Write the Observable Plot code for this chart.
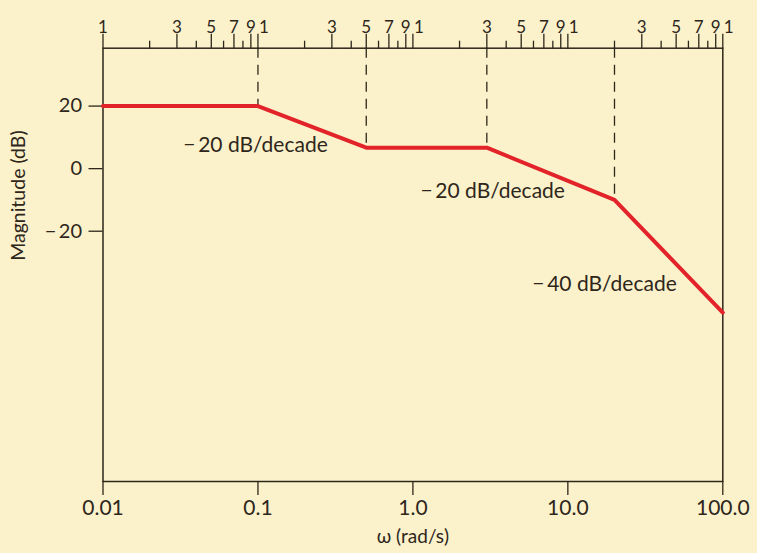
<!DOCTYPE html>
<html>
<head>
<meta charset="utf-8">
<script src="https://cdn.jsdelivr.net/npm/d3@7"></script>
<script src="https://cdn.jsdelivr.net/npm/@observablehq/plot@0.6"></script>
<style>
  html, body { margin: 0; padding: 0; background: #fbf2cb; }
  #chart svg { display: block; }
</style>
</head>
<body>
<div id="chart"></div>
<script>
// Asymptotic Bode magnitude plot
const omega = [0.01, 0.1, 0.5, 3, 20, 100];
const magnitude = [20, 20, 6.7, 6.7, -10, -46];
const breakOmega = [0.1, 0.5, 3, 20];

const xDomain = [0.01, 100];
const yDomain = [-100, 38.5];

const bottomTicks = [0.01, 0.1, 1, 10, 100];
const bottomLabels = ["0.01", "0.1", "1.0", "10.0", "100.0"];

const topMajorTicks = [0.01, 0.03, 0.05, 0.07, 0.09, 0.1, 0.3, 0.5, 0.7, 0.9, 1, 3, 5, 7, 9, 10, 30, 50, 70, 90, 100];
const topMajorLabels = ["1", "3", "5", "7", "9", "1", "3", "5", "7", "9", "1", "3", "5", "7", "9", "1", "3", "5", "7", "9", "1"];
const topMinorTicks = [0.02, 0.04, 0.06, 0.08, 0.2, 0.4, 0.6, 0.8, 2, 4, 6, 8, 20, 40, 60, 80];

const yTicks = [20, 0, -20];
const yLabels = ["20", "0", "\u2212\u200920"];

const slopeText = ["\u2212\u200920 dB/decade", "\u2212\u200920 dB/decade", "\u2212\u200940 dB/decade"];
const slopeOmega = [0.033, 1.12, 5.9];
const slopeMag = [7.4, -7.3, -37];

const curve = omega.map((w, i) => ({w, db: magnitude[i]}));
const breaks = breakOmega.map(w => ({w, db: magnitude[omega.indexOf(w)], top: yDomain[1]}));
const slopes = slopeText.map((t, i) => ({t, w: slopeOmega[i], db: slopeMag[i]}));
const topLabels = topMajorTicks.map((w, i) => ({w, t: topMajorLabels[i]}));
// decade "1" labels (after the first) sit just right of their tick, as in the original
const topCentered = topLabels.filter((d, i) => i === 0 || d.t !== "1");
const topDecade = topLabels.filter((d, i) => i > 0 && d.t === "1");

const fmt = (vals, labs) => { const m = new Map(vals.map((v, i) => [v, labs[i]])); return d => m.get(d) ?? ""; };

const ink = "#2e261b";

const chart = Plot.plot({
  width: 757,
  height: 553,
  marginLeft: 102.5,
  marginRight: 34.7,
  marginTop: 47.7,
  marginBottom: 72,
  style: {background: "#fbf2cb", color: ink, fontFamily: "Lato, 'Open Sans', sans-serif", fontSize: "20px"},
  x: {type: "log", domain: xDomain},
  y: {domain: yDomain},
  marks: [
    Plot.axisX(topMinorTicks, {anchor: "top", tickSize: 8, tickFormat: () => "", label: null, stroke: ink, strokeWidth: 1.3}),
    Plot.axisX(topMajorTicks, {anchor: "top", tickSize: 15, tickFormat: () => "", label: null, stroke: ink, strokeWidth: 1.3}),
    Plot.text(topCentered, {x: "w", text: "t", frameAnchor: "top", dy: -27, fontSize: 17, fill: ink}),
    Plot.text(topDecade, {x: "w", text: "t", frameAnchor: "top", dy: -27, dx: 1, textAnchor: "start", fontSize: 17, fill: ink}),
    Plot.axisX(bottomTicks, {anchor: "bottom", tickSize: 14, tickPadding: 5, tickFormat: fmt(bottomTicks, bottomLabels), label: null, fontSize: 21, stroke: ink, strokeWidth: 1.3}),
    Plot.axisY(yTicks, {anchor: "left", tickSize: 14, tickPadding: 7, tickFormat: fmt(yTicks, yLabels), label: null, fontSize: 20, stroke: ink, strokeWidth: 1.3}),
    Plot.frame({stroke: ink, strokeWidth: 1.5}),
    Plot.ruleX(breaks, {x: "w", y1: "top", y2: "db", stroke: ink, strokeWidth: 1.3, strokeDasharray: "10,7"}),
    Plot.line(curve, {x: "w", y: "db", stroke: "#e2232a", strokeWidth: 4, strokeLinejoin: "miter"}),
    Plot.text(slopes, {x: "w", y: "db", text: "t", textAnchor: "start", fontSize: 21, fill: ink}),
    Plot.text(["\u03c9 (rad/s)"], {frameAnchor: "bottom", dy: 61, fontSize: 19, fill: ink}),
    Plot.text(["Magnitude (dB)"], {frameAnchor: "left", dx: -84, dy: -4, rotate: -90, fontSize: 19.5, fill: ink})
  ]
});
document.getElementById("chart").appendChild(chart);
</script>
</body>
</html>
